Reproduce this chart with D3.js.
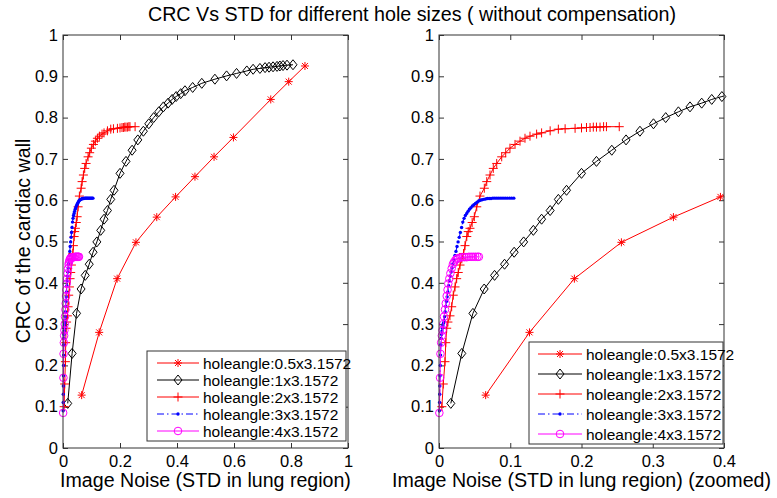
<!DOCTYPE html>
<html><head><meta charset="utf-8">
<script src="https://cdn.jsdelivr.net/npm/d3@7/dist/d3.min.js"></script>
<style>
body{margin:0;background:#fff}
text{font-family:"Liberation Sans",Arial,sans-serif;fill:#000}
</style>
</head><body>
<svg id="chart" width="777" height="498"></svg>
<script>
// ---------- DATA ----------
const seriesNames = ["holeangle:0.5x3.1572","holeangle:1x3.1572","holeangle:2x3.1572","holeangle:3x3.1572","holeangle:4x3.1572"];

const h05X = [0.0655,0.127,0.19,0.256,0.329,0.395,0.463,0.53,0.598,0.729,0.792,0.849];
const h05Y = [0.128,0.28,0.41,0.498,0.559,0.608,0.657,0.705,0.752,0.844,0.887,0.925];

const h1X = [0.0166,0.032,0.0476,0.0634,0.078,0.092,0.1055,0.1188,0.1324,0.144,0.156,0.1675,0.179,0.2,0.221,0.2425,0.2625,0.282,0.301,0.3182,0.336,0.3523,0.3687,0.3828,0.397,
             0.413,0.428,0.455,0.487,0.533,0.574,0.609,0.645,0.667,0.691,0.709,0.723,0.737,0.751,0.761,0.772,0.786,0.807];
const h1Y = [0.108,0.229,0.326,0.385,0.418,0.445,0.474,0.499,0.527,0.554,0.575,0.602,0.624,0.665,0.694,0.721,0.746,0.767,0.785,0.8,0.814,0.826,0.835,0.844,0.851,
             0.858,0.865,0.873,0.883,0.893,0.901,0.907,0.913,0.917,0.919,0.921,0.922,0.923,0.924,0.925,0.926,0.927,0.928];

const h2X = [0.004,0.006,0.0084,0.0095,0.0108,0.0125,0.0154,0.0178,0.02,0.0225,0.0248,0.027,0.0295,0.032,0.0345,0.0365,0.039,0.041,0.0435,0.0465,
             0.0496,0.053,0.0575,0.0636,0.067,0.0716,0.0762,0.081,0.088,0.0936,0.0996,0.1067,0.1137,0.1207,0.1277,0.137,0.144,0.156,0.1675,0.177,
             0.191,0.2,0.207,0.212,0.2166,0.221,0.226,0.231,0.235,0.253];
const h2Y = [0.1,0.155,0.209,0.255,0.29,0.305,0.32,0.342,0.37,0.39,0.41,0.425,0.443,0.458,0.471,0.49,0.512,0.524,0.532,0.546,
             0.56,0.584,0.61,0.629,0.645,0.661,0.677,0.689,0.705,0.715,0.726,0.735,0.743,0.75,0.755,0.76,0.763,0.768,0.772,0.773,
             0.774,0.775,0.776,0.776,0.777,0.777,0.777,0.778,0.778,0.778];

const h3X = [0.0005,0.0008,0.001,0.0012,0.0015,0.0018,0.0022,0.0026,0.003,0.0036,0.0042,0.0048,0.0055,0.0062,0.007,0.0078,0.0086,0.0095,0.0104,0.0114,
             0.0124,0.0135,0.0146,0.0158,0.017,0.0183,0.0196,0.021,0.0224,0.0238,0.0253,0.0268,0.0284,0.03,0.0317,0.0334,0.0352,0.037,0.0389,0.0408,
             0.0428,0.0448,0.0469,0.049,0.0512,0.0534,0.0557,0.058,0.0604,0.0628,0.0653,0.0678,0.0704,0.073,0.0757,0.0784,0.0812,0.084,0.0869,0.0898,
             0.0928,0.0958,0.099,0.102,0.105];
const h3Y = [0.09,0.11,0.13,0.15,0.175,0.2,0.225,0.25,0.265,0.275,0.283,0.29,0.296,0.302,0.308,0.318,0.33,0.343,0.355,0.366,
             0.378,0.393,0.405,0.416,0.426,0.436,0.446,0.456,0.466,0.476,0.488,0.499,0.51,0.522,0.534,0.547,0.556,0.563,0.568,0.573,
             0.578,0.582,0.586,0.589,0.592,0.595,0.598,0.6,0.601,0.602,0.603,0.604,0.604,0.604,0.605,0.605,0.605,0.605,0.605,0.605,
             0.605,0.605,0.605,0.605,0.605];

const h4X = [0.0005,0.0015,0.002,0.003,0.004,0.005,0.006,0.007,0.0084,0.0095,0.0108,0.012,0.013,0.0145,0.016,0.0178,0.0195,0.021,0.023,0.025,
             0.027,0.03,0.033,0.036,0.039,0.042,0.045,0.048,0.051,0.054,0.056];
const h4Y = [0.085,0.17,0.228,0.255,0.272,0.285,0.3,0.318,0.335,0.35,0.368,0.383,0.398,0.41,0.423,0.435,0.445,0.45,0.455,0.458,
             0.46,0.461,0.462,0.462,0.462,0.463,0.463,0.463,0.463,0.463,0.463];

const yTickVals = [0,0.1,0.2,0.3,0.4,0.5,0.6,0.7,0.8,0.9,1];
const yTickLabels = ["0","0.1","0.2","0.3","0.4","0.5","0.6","0.7","0.8","0.9","1"];
const xTickValsLeft = [0,0.2,0.4,0.6,0.8,1];
const xTickLabelsLeft = ["0","0.2","0.4","0.6","0.8","1"];
const xTickValsRight = [0,0.1,0.2,0.3,0.4];
const xTickLabelsRight = ["0","0.1","0.2","0.3","0.4"];

const titleText = "CRC Vs STD for different hole sizes ( without compensation)";
const yLabelText = "CRC of the cardiac wall";
const xLabelLeft = "Image Noise (STD in lung region)";
const xLabelRight = "Image Noise (STD in lung region) (zoomed)";

// ---------- SERIES ----------
const series = [
  {name:seriesNames[0], x:h05X, y:h05Y, color:"#ff0000", marker:"star", dash:null},
  {name:seriesNames[1], x:h1X,  y:h1Y,  color:"#000000", marker:"diamond", dash:null},
  {name:seriesNames[2], x:h2X,  y:h2Y,  color:"#ff0000", marker:"plus", dash:null},
  {name:seriesNames[3], x:h3X,  y:h3Y,  color:"#0000ff", marker:"dot", dash:"7,3,1.5,3"},
  {name:seriesNames[4], x:h4X,  y:h4Y,  color:"#ff00ff", marker:"circle", dash:null}
];

const svg = d3.select("#chart");
const FONT = "'Liberation Sans',Arial,sans-serif";

function drawMarker(g, type, cx, cy, color){
  if(type==="star"){
    g.append("path").attr("d",`M${cx-4},${cy}H${cx+4}M${cx},${cy-4}V${cy+4}M${cx-3},${cy-3}L${cx+3},${cy+3}M${cx-3},${cy+3}L${cx+3},${cy-3}`)
      .attr("stroke",color).attr("stroke-width",1).attr("fill","none");
  } else if(type==="plus"){
    g.append("path").attr("d",`M${cx-4.5},${cy}H${cx+4.5}M${cx},${cy-4.5}V${cy+4.5}`)
      .attr("stroke",color).attr("stroke-width",1).attr("fill","none");
  } else if(type==="diamond"){
    g.append("path").attr("d",`M${cx},${cy-5}L${cx+4},${cy}L${cx},${cy+5}L${cx-4},${cy}Z`)
      .attr("stroke",color).attr("stroke-width",1).attr("fill","none");
  } else if(type==="dot"){
    g.append("circle").attr("cx",cx).attr("cy",cy).attr("r",1.7).attr("fill",color);
  } else if(type==="circle"){
    g.append("circle").attr("cx",cx).attr("cy",cy).attr("r",3.8)
      .attr("stroke",color).attr("stroke-width",1).attr("fill","none");
  }
}

function panel(id, x0, x1, yTop, yBot, xMax, xTicks, xLabels, xLabelText, leg){
  const x = d3.scaleLinear().domain([0,xMax]).range([x0,x1]);
  const y = d3.scaleLinear().domain([0,1]).range([yBot,yTop]);
  const g = svg.append("g");

  svg.append("defs").append("clipPath").attr("id","clip"+id)
    .append("rect").attr("x",x0).attr("y",yTop).attr("width",x1-x0).attr("height",yBot-yTop);

  const axL = d3.axisLeft(y).tickValues(yTickVals).tickFormat((d,i)=>yTickLabels[i]).tickSize(-5).tickPadding(5);
  const axR = d3.axisRight(y).tickValues(yTickVals).tickFormat("").tickSize(-5);
  const axB = d3.axisBottom(x).tickValues(xTicks).tickFormat((d,i)=>xLabels[i]).tickSize(-5).tickPadding(7);
  const axT = d3.axisTop(x).tickValues(xTicks).tickFormat("").tickSize(-5);
  const styleAx = sel => {
    sel.select(".domain").remove();
    sel.selectAll("line").attr("stroke","#333");
    sel.selectAll("text").attr("font-family",FONT).attr("font-size",16.5).attr("fill","#000");
  };
  g.append("g").attr("transform",`translate(${x0},0)`).call(axL).call(styleAx);
  g.append("g").attr("transform",`translate(${x1},0)`).call(axR).call(styleAx);
  g.append("g").attr("transform",`translate(0,${yBot})`).call(axB).call(styleAx);
  g.append("g").attr("transform",`translate(0,${yTop})`).call(axT).call(styleAx);

  const line = d3.line().x(d=>x(d[0])).y(d=>y(d[1]));
  series.forEach(s=>{
    const pts = s.x.map((v,i)=>[v,s.y[i]]);
    g.append("path").datum(pts).attr("d",line).attr("clip-path",`url(#clip${id})`)
      .attr("fill","none").attr("stroke",s.color).attr("stroke-width",1)
      .attr("stroke-dasharray",s.dash);
    const mg = g.append("g");
    pts.filter(p=>p[0]<=xMax+1e-9).forEach(p=>drawMarker(mg,s.marker,x(p[0]),y(p[1]),s.color));
  });

  g.append("rect").attr("x",x0).attr("y",yTop).attr("width",x1-x0).attr("height",yBot-yTop)
    .attr("fill","none").attr("stroke","#333").attr("stroke-width",1);

  const lg = g.append("g");
  lg.append("rect").attr("x",leg.x).attr("y",leg.y).attr("width",leg.w).attr("height",leg.h)
    .attr("fill","#fff").attr("stroke","#333").attr("stroke-width",1);
  series.forEach((s,i)=>{
    const yy = leg.y + leg.first + i*leg.step;
    lg.append("line").attr("x1",leg.lx0).attr("x2",leg.lx1).attr("y1",yy).attr("y2",yy)
      .attr("stroke",s.color).attr("stroke-width",1).attr("stroke-dasharray",s.dash);
    drawMarker(lg,s.marker,(leg.lx0+leg.lx1)/2,yy,s.color);
    lg.append("text").attr("x",leg.tx).attr("y",yy).attr("dy","0.36em")
      .attr("font-size",15.5).text(s.name);
  });

  g.append("text").attr("x",(x0+x1)/2).attr("y",487).attr("text-anchor","middle")
    .attr("font-size",19.6).text(xLabelText);
  return g;
}

panel("L", 63, 348, 35, 448, 1, xTickValsLeft, xTickLabelsLeft, xLabelLeft,
  {x:147, y:351, w:199, h:90, first:12, step:17, lx0:157, lx1:199, tx:203});
panel("R", 439, 724, 35, 448, 0.4, xTickValsRight, xTickLabelsRight, xLabelRight,
  {x:529, y:342, w:194, h:102, first:12, step:20, lx0:538, lx1:582, tx:586});

svg.append("text").attr("x",412).attr("y",21).attr("text-anchor","middle")
  .attr("font-size",19.7).text(titleText);
svg.append("text").attr("transform","translate(30,241) rotate(-90)").attr("text-anchor","middle")
  .attr("font-size",19.6).text(yLabelText);
</script>
</body></html>
